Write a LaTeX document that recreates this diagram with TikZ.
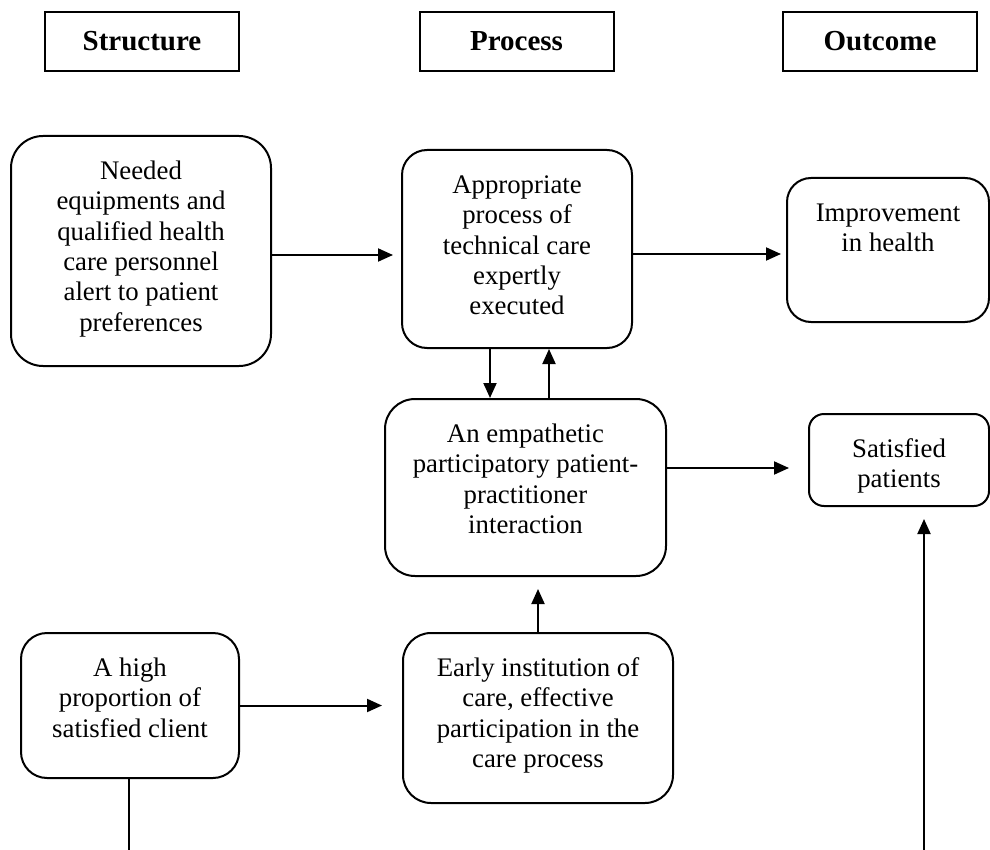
\documentclass[tikz,border=0pt]{standalone}
\usepackage{fontspec}
\setmainfont{Liberation Serif}
\usetikzlibrary{positioning, arrows.meta}
\newcommand{\toptext}[3]{\parbox[c][#2][t]{#1}{\centering\vspace*{11pt}\strut#3}}

\begin{document}
\begin{tikzpicture}[x=0.5pt, y=-0.5pt,
  head/.style={draw, line width=1pt, minimum width=97pt, minimum height=29.5pt, inner sep=0pt, font=\fontsize{14.5}{17}\selectfont\bfseries},
  rbox/.style={draw, line width=1pt, rounded corners=#1, inner sep=0pt, font=\fontsize{13.4}{15.2}\selectfont},
  arr/.style={line width=1pt, -{Triangle[length=7.5pt, width=6.5pt]}}]
    \useasboundingbox (0,0) rectangle (990,850);
    \node[head] (struct) at (142,41.5) {Structure};
    \node[head] (proc) at (516.5,41.5) {Process};
    \node[head] (outc) at (880,41.5) {Outcome};

    \node[rbox=16pt] (need) at (141,251) {\toptext{130pt}{115pt}{Needed\\equipments and\\qualified health\\care personnel\\alert to patient\\preferences}};
    \node[rbox=12.5pt] (appr) at (517,249) {\toptext{115pt}{99pt}{Appropriate\\process of\\technical care\\expertly\\executed}};
    \node[rbox=12pt] (impr) at (888,250) {\toptext{101pt}{72pt}{Improvement\\in health}};
    \node[rbox=15pt] (emp) at (525.5,487.5) {\toptext{140.5pt}{88.5pt}{An empathetic\\participatory patient-\\practitioner\\interaction}};
    \node[rbox=7.5pt] (sat) at (899,460) {\toptext{90pt}{46pt}{Satisfied\\patients}};
    \node[rbox=13pt] (ahigh) at (130,705.5) {\toptext{109pt}{72.5pt}{A high\\proportion of\\satisfied client}};
    \node[rbox=14pt] (early) at (538,718) {\toptext{135pt}{85pt}{Early institution of\\care, effective\\participation in the\\care process}};

    \coordinate (lowL) at (129,852);
    \coordinate (lowR) at (924,852);

    \draw[arr, shorten >=4pt] ([yshift=-2pt]need.east) -- ([yshift=-2pt]need.east -| appr.west);
    \draw[arr, shorten >=2.5pt] ([yshift=-2.5pt]appr.east) -- ([yshift=-2.5pt]appr.east -| impr.west);
    \draw[arr] ([xshift=-13.5pt]appr.south) -- ([xshift=-13.5pt]appr.south |- emp.north);
    \draw[arr] ([xshift=11.75pt]emp.north) -- ([xshift=11.75pt]emp.north |- appr.south);
    \draw[arr, shorten >=9.5pt] ([yshift=9.75pt]emp.east) -- ([yshift=9.75pt]emp.east -| sat.west);
    \draw[arr, shorten >=6pt] (early.north) -- (early.north |- emp.south);
    \draw[arr, shorten >=10pt] (ahigh.east) -- (ahigh.east -| early.west);
    \draw[line width=0.8pt] (ahigh.south -| lowL) -- (lowL);
    \draw[arr, shorten >=6pt] (lowR) -- (lowR |- sat.south);
\end{tikzpicture}
\end{document}
